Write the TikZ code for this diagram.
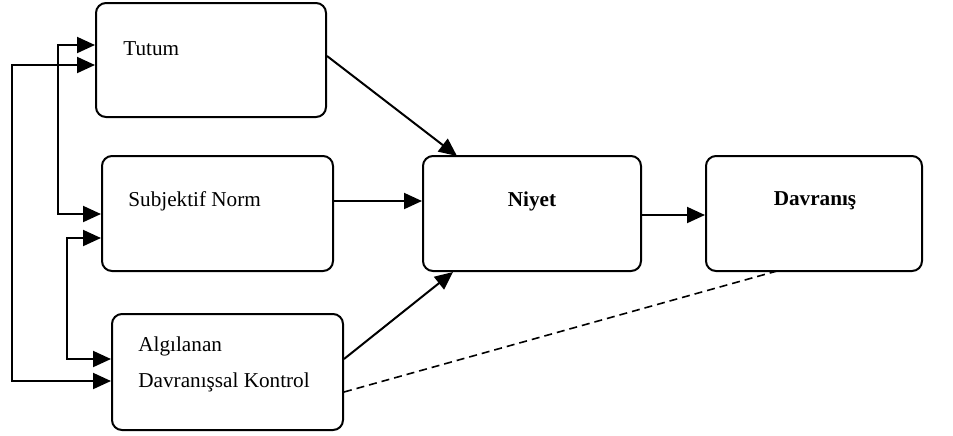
\documentclass[tikz,border=0pt]{standalone}
\usepackage{fontspec}
\setmainfont{Liberation Serif}
\usetikzlibrary{arrows.meta}
\begin{document}
\begin{tikzpicture}[x=0.5pt,y=-0.5pt,
  box/.style={draw,line width=1pt,rounded corners=5pt,minimum width=#1,inner sep=0pt},
  box/.default=115pt,
  lbl/.style={anchor=west,inner sep=0pt,font=\fontsize{10.6}{12}\selectfont},
  blbl/.style={inner sep=0pt,font=\fontsize{10.6}{12}\selectfont\bfseries},
  arr/.style={line width=1pt,-{Triangle[length=9pt,width=8pt]}},
  darr/.style={line width=1pt,{Triangle[length=9pt,width=8pt]}-{Triangle[length=9pt,width=8pt]}}]
\useasboundingbox (0,0) rectangle (953,435);
% boxes
\node[box=115pt,minimum height=57pt] (tut) at (211,60) {};
\node[box=115.5pt,minimum height=57.5pt] (sub) at (217.5,213.5) {};
\node[box=115.5pt,minimum height=58pt] (alg) at (227.5,372) {};
\node[box=109pt,minimum height=57.5pt] (niy) at (532,213.5) {};
\node[box=108pt,minimum height=57.5pt] (dav) at (814,213.5) {};
% texts
\node[lbl] (tTut) at (123,49) {Tutum};
\node[lbl] (tSub) at (128,201) {Subjektif Norm};
\node[lbl] (tAlg1) at (138,346) {Algılanan};
\node[lbl] (tAlg2) at (138,382) {Davranışsal Kontrol};
\node[blbl] (tNiy) at (532,201) {Niyet};
\node[blbl] (tDav) at (815,201) {Davranış};
% feedback lines on the left
\coordinate (o1) at (12,65);
\coordinate (o2) at (12,381);
\draw[darr] (tut.west |- o1) -- (o1) -- (o2) -- (alg.west |- o2);
\coordinate (i1) at (58,45);
\coordinate (i2) at (58,214);
\draw[darr] (tut.west |- i1) -- (i1) -- (i2) -- (sub.west |- i2);
\coordinate (j1) at (67,238);
\coordinate (j2) at (67,359);
\draw[darr] (sub.west |- j1) -- (j1) -- (j2) -- (alg.west |- j2);
% into Niyet
\coordinate (n1) at (457,156);
\draw[arr] (tut.east |- 0,56) -- (n1);
\draw[arr] (sub.east |- 0,201) -- (niy.west |- 0,201);
\coordinate (n2) at (453,272);
\draw[arr] (alg.east |- 0,359) -- (n2);
\draw[arr] (niy.east |- 0,215) -- (dav.west |- 0,215);
\coordinate (d1) at (777,271);
\draw[line width=0.8pt,dash pattern=on 4pt off 2.5pt] (alg.east |- 0,392) -- (d1);
\end{tikzpicture}
\end{document}
